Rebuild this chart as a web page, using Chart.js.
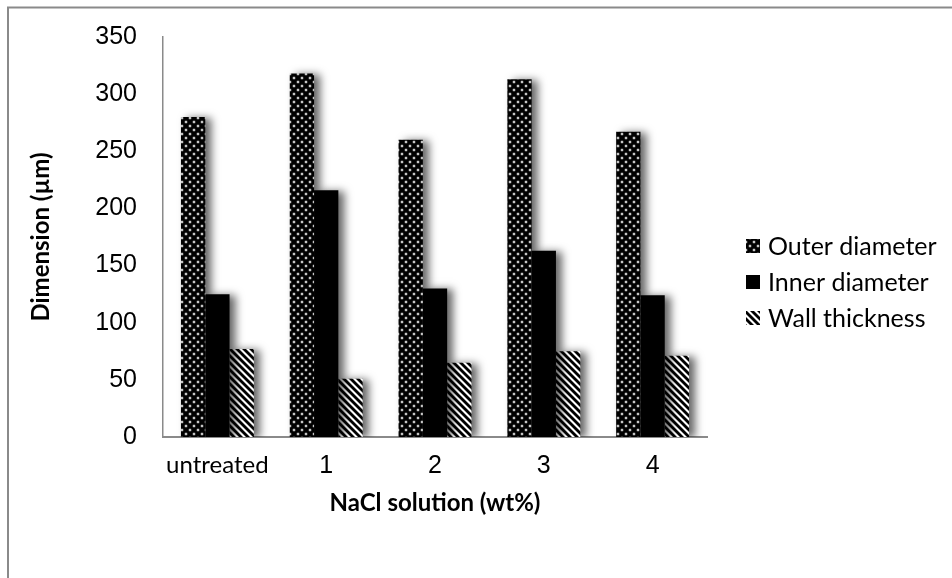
<!DOCTYPE html>
<html>
<head>
<meta charset="utf-8">
<script src="https://cdn.jsdelivr.net/npm/chart.js@4/dist/chart.umd.min.js"></script>
<style>
html,body{margin:0;padding:0;background:#fff;}
#wrap{width:952px;height:578px;position:relative;}
</style>
</head>
<body>
<div id="wrap"><canvas id="c" width="952" height="578"></canvas></div>
<script>
const categories = ['untreated', '1', '2', '3', '4'];
const outerDiameter = [280, 318, 260, 313, 267];
const innerDiameter = [125, 216, 130, 163, 124];
const wallThickness = [77, 51, 65, 75, 71];
const seriesNames = ['Outer diameter', 'Inner diameter', 'Wall thickness'];
const yTicks = [0, 50, 100, 150, 200, 250, 300, 350];

const sansText = 'Lato, "Open Sans", sans-serif';
const numText = '"Liberation Sans", Arial, sans-serif';

function dotPattern() {
  const t = document.createElement('canvas');
  t.width = 8; t.height = 8;
  const c = t.getContext('2d');
  c.fillStyle = '#000'; c.fillRect(0, 0, 8, 8);
  c.fillStyle = 'rgba(160,160,160,0.5)';
  [[2,2],[6,6]].forEach(([x,y]) => { c.beginPath(); c.arc(x, y, 1.7, 0, Math.PI*2); c.fill(); });
  c.fillStyle = 'rgba(235,235,235,0.95)';
  [[2,2],[6,6]].forEach(([x,y]) => { c.beginPath(); c.arc(x, y, 1.1, 0, Math.PI*2); c.fill(); });
  return c.createPattern(t, 'repeat');
}
function stripePattern() {
  const t = document.createElement('canvas');
  t.width = 7; t.height = 7;
  const c = t.getContext('2d');
  c.fillStyle = '#fff'; c.fillRect(0, 0, 7, 7);
  c.strokeStyle = '#000'; c.lineWidth = 2.8;
  for (let k = -7; k <= 7; k += 7) {
    c.beginPath(); c.moveTo(k - 1, -1); c.lineTo(k + 8, 8); c.stroke();
  }
  return c.createPattern(t, 'repeat');
}
const fills = [dotPattern(), '#000', stripePattern()];

const framePlugin = {
  id: 'frame',
  beforeDraw(chart) {
    const ctx = chart.ctx;
    ctx.save();
    ctx.fillStyle = '#fff';
    ctx.fillRect(0, 0, chart.width, chart.height);
    ctx.strokeStyle = '#8a8a8a';
    ctx.lineWidth = 2;
    ctx.beginPath(); ctx.moveTo(8, 578); ctx.lineTo(8, 7.5); ctx.lineTo(952, 7.5); ctx.stroke();
    ctx.restore();
  }
};
const shadowPlugin = {
  id: 'shadow',
  beforeDatasetsDraw(chart) {
    const ctx = chart.ctx;
    ctx.save();
    ctx.shadowColor = 'rgba(0,0,0,0.6)';
    ctx.shadowBlur = 8;
    ctx.shadowOffsetX = 6;
    ctx.shadowOffsetY = 1;
  },
  afterDatasetsDraw(chart) { chart.ctx.restore(); }
};
const legendPlugin = {
  id: 'customLegend',
  afterDraw(chart) {
    const ctx = chart.ctx;
    ctx.save();
    ctx.font = '25px ' + sansText;
    ctx.textBaseline = 'middle';
    const x0 = 746, ys = [246, 282, 318];
    chart.data.datasets.forEach((ds, i) => {
      ctx.fillStyle = ds.backgroundColor;
      ctx.fillRect(x0, ys[i] - 7, 14, 14);
      ctx.fillStyle = '#000';
      ctx.fillText(ds.label, x0 + 22, ys[i] + 1);
    });
    ctx.restore();
  }
};

new Chart(document.getElementById('c'), {
  type: 'bar',
  data: {
    labels: categories,
    datasets: [
      { label: seriesNames[0], data: outerDiameter, backgroundColor: fills[0] },
      { label: seriesNames[1], data: innerDiameter, backgroundColor: fills[1] },
      { label: seriesNames[2], data: wallThickness, backgroundColor: fills[2] }
    ]
  },
  options: {
    responsive: false,
    animation: false,
    devicePixelRatio: 1,
    layout: { padding: { left: 20, right: 245, top: 37, bottom: 50 } },
    datasets: { bar: { categoryPercentage: 0.67, barPercentage: 1.0, borderWidth: 0 } },
    plugins: { legend: { display: false }, tooltip: { enabled: false } },
    scales: {
      x: {
        grid: { display: false, drawTicks: false },
        border: { display: true, color: '#8a8a8a', width: 2 },
        ticks: {
          padding: 14, color: '#000', maxRotation: 0, autoSkip: false,
          font: (ctx) => ({ family: ctx.index === 0 ? sansText : numText, size: ctx.index === 0 ? 24 : 25 })
        },
        title: { display: true, text: 'NaCl solution (wt%)', color: '#000', font: { family: sansText, size: 24, weight: 'bold' }, padding: { top: 0, bottom: 10 } },
        afterFit(s) { s.height = 578 - 437 - 50; s.paddingLeft = 0; s.paddingRight = 0; }
      },
      y: {
        min: 0, max: 350,
        afterBuildTicks(s) { s.ticks = yTicks.map(v => ({ value: v })); },
        grid: { display: false, drawTicks: false },
        border: { display: true, color: '#8a8a8a', width: 1.5 },
        ticks: { padding: 26, color: '#000', font: { family: numText, size: 25 } },
        title: { display: true, text: 'Dimension (µm)', color: '#000', font: { family: sansText, size: 24, weight: 'bold' }, padding: { top: 7, bottom: 0 } },
        afterFit(s) { s.width = 163 - 20; s.paddingTop = 0; s.paddingBottom = 0; }
      }
    }
  },
  plugins: [framePlugin, shadowPlugin, legendPlugin]
});
</script>
</body>
</html>
